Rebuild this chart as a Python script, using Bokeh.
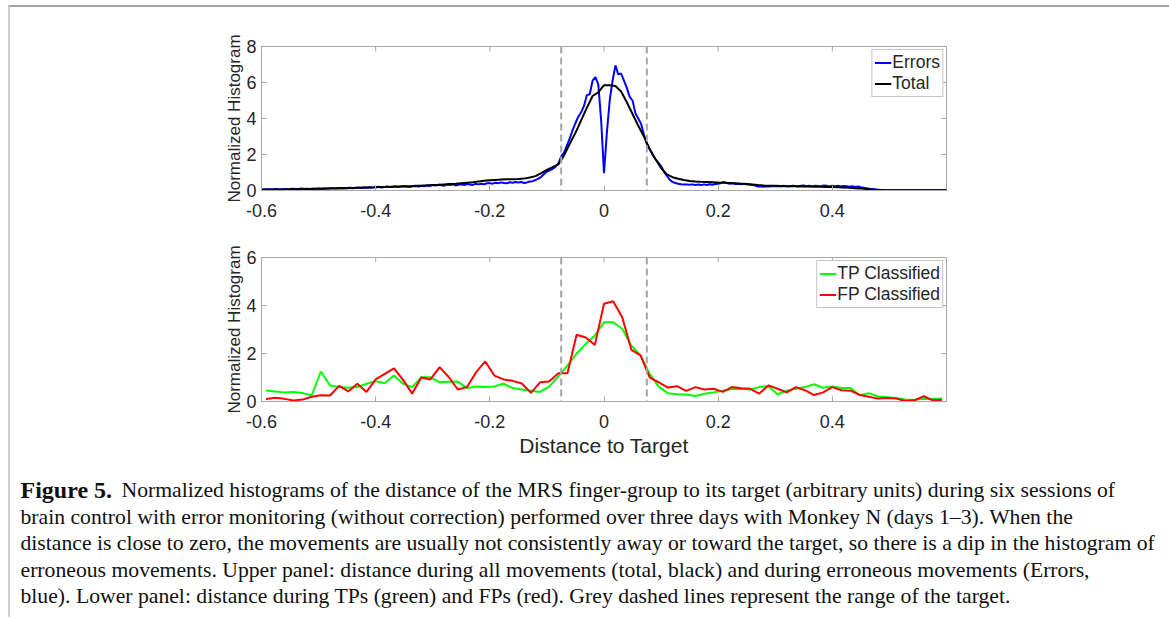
import numpy as np
from bokeh.plotting import figure
from bokeh.models import Range1d, FixedTicker, Span, Legend, LegendItem
from bokeh.layouts import column
from bokeh.embed import file_html
from bokeh.resources import INLINE
from bokeh.core.properties import value

# ---------------- data ----------------
# upper panel: Errors histogram (bin width 0.005)
errors_x = np.round(np.linspace(-0.6, 0.6, 241), 3)
errors_y = [
    0.06, 0.05, 0.07, 0.05, 0.06, 0.08, 0.06, 0.07, 0.09, 0.07, 0.08, 0.10, 0.08, 0.09, 0.11, 0.09, 0.10, 0.09, 0.11, 0.10,
    0.11, 0.10, 0.12, 0.11, 0.13, 0.12, 0.11, 0.13, 0.14, 0.12, 0.14, 0.15, 0.13, 0.15, 0.16, 0.14, 0.17, 0.15, 0.18, 0.16,
    0.19, 0.21, 0.17, 0.20, 0.22, 0.19, 0.21, 0.23, 0.20, 0.22, 0.24, 0.21, 0.20, 0.23, 0.25, 0.22, 0.26, 0.24, 0.27, 0.25,
    0.30, 0.27, 0.32, 0.29, 0.27, 0.33, 0.30, 0.35, 0.28, 0.32, 0.34, 0.30, 0.36, 0.33, 0.31, 0.37, 0.34, 0.38, 0.35, 0.40,
    0.41, 0.38, 0.43, 0.40, 0.45, 0.42, 0.40, 0.46, 0.43, 0.47, 0.44, 0.47, 0.42, 0.45, 0.50, 0.52, 0.58, 0.66, 0.76, 0.92,
    1.05, 1.12, 1.20, 1.32, 1.50, 1.90, 2.10, 2.50, 2.90, 3.35, 3.75, 4.10, 4.35, 4.70, 5.30, 5.35, 6.10, 6.30, 5.90, 3.90,
    0.96, 3.20, 5.00, 6.10, 6.95, 6.45, 6.50, 6.10, 5.70, 5.20, 5.00, 4.30, 4.00, 3.70, 3.10, 2.60, 2.30, 2.00, 1.75, 1.55,
    1.35, 1.05, 0.82, 0.60, 0.48, 0.42, 0.38, 0.35, 0.33, 0.34, 0.32, 0.34, 0.31, 0.33, 0.30, 0.34, 0.31, 0.35, 0.32, 0.36,
    0.38, 0.42, 0.47, 0.41, 0.38, 0.40, 0.36, 0.38, 0.35, 0.37, 0.34, 0.33, 0.30, 0.27, 0.22, 0.24, 0.21, 0.24, 0.22, 0.25,
    0.23, 0.25, 0.22, 0.26, 0.24, 0.23, 0.27, 0.25, 0.22, 0.26, 0.28, 0.24, 0.26, 0.23, 0.27, 0.25, 0.24, 0.28, 0.26, 0.23,
    0.27, 0.24, 0.26, 0.22, 0.25, 0.23, 0.21, 0.24, 0.20, 0.22, 0.18, 0.16, 0.13, 0.10, 0.08, 0.06, 0.04, 0.03, 0.02, 0.02,
    0.01, 0.01, 0.01, 0.01, 0.01, 0.01, 0.01, 0.01, 0.01, 0.01, 0.01, 0.01, 0.01, 0.01, 0.01, 0.01, 0.01, 0.01, 0.01, 0.01,
    0.01,
]

# upper panel: Total histogram (bin width 0.01)
total_x = np.round(np.linspace(-0.6, 0.6, 121), 3)
total_y = [
    0.04, 0.05, 0.05, 0.06, 0.06, 0.07, 0.07, 0.08, 0.08, 0.09,
    0.10, 0.10, 0.11, 0.12, 0.12, 0.13, 0.14, 0.15, 0.16, 0.17,
    0.18, 0.19, 0.20, 0.21, 0.22, 0.23, 0.24, 0.26, 0.27, 0.29,
    0.31, 0.32, 0.34, 0.36, 0.37, 0.40, 0.43, 0.46, 0.50, 0.54,
    0.57, 0.59, 0.61, 0.62, 0.63, 0.64, 0.66, 0.72, 0.80, 0.96,
    1.15, 1.30, 1.45, 1.95, 2.60, 3.20, 3.90, 4.60, 5.25, 5.45,
    5.85, 5.85, 5.80, 5.50, 4.90, 4.25, 3.60, 3.00, 2.30, 1.75,
    1.25, 0.90, 0.74, 0.65, 0.58, 0.53, 0.50, 0.48, 0.47, 0.46,
    0.44, 0.43, 0.42, 0.40, 0.38, 0.36, 0.33, 0.30, 0.28, 0.27,
    0.26, 0.25, 0.24, 0.24, 0.23, 0.22, 0.22, 0.21, 0.21, 0.20,
    0.19, 0.18, 0.17, 0.15, 0.13, 0.11, 0.09, 0.06, 0.04, 0.02,
    0.01, 0.01, 0.01, 0.01, 0.01, 0.01, 0.01, 0.01, 0.01, 0.01, 0.01,
]

# lower panel: classified histograms (bin width 0.016)
class_x = np.round(np.linspace(-0.592, 0.592, 75), 3)
tp_y = [
    0.46, 0.42, 0.38, 0.40, 0.35, 0.26, 1.25, 0.67, 0.60, 0.57,
    0.60, 0.74, 0.85, 0.76, 1.08, 0.74, 0.60, 1.01, 1.01, 0.80,
    0.82, 0.82, 0.56, 0.62, 0.60, 0.63, 0.74, 0.56, 0.50, 0.45,
    0.40, 0.62, 1.05, 1.50, 1.99, 2.40, 2.75, 3.30, 3.30, 3.03,
    2.33, 1.92, 1.15, 0.62, 0.34, 0.30, 0.29, 0.23, 0.32, 0.38,
    0.45, 0.52, 0.53, 0.50, 0.60, 0.64, 0.30, 0.45, 0.53, 0.60,
    0.72, 0.57, 0.63, 0.56, 0.56, 0.26, 0.35, 0.21, 0.18, 0.15,
    0.08, 0.07, 0.11, 0.10, 0.12,
]
fp_y = [
    0.10, 0.16, 0.11, 0.04, 0.08, 0.20, 0.26, 0.25, 0.65, 0.42,
    0.74, 0.40, 0.92, 1.15, 1.38, 0.90, 0.33, 1.00, 0.92, 1.43,
    1.02, 0.50, 0.60, 1.22, 1.67, 1.08, 0.92, 0.86, 0.75, 0.36,
    0.80, 0.83, 1.18, 1.18, 2.78, 2.67, 2.36, 4.07, 4.18, 3.51,
    2.15, 1.92, 1.01, 0.80, 0.58, 0.64, 0.44, 0.60, 0.50, 0.53,
    0.40, 0.60, 0.55, 0.53, 0.33, 0.67, 0.53, 0.38, 0.60, 0.47,
    0.27, 0.38, 0.60, 0.47, 0.45, 0.27, 0.20, 0.12, 0.15, 0.12,
    0.02, 0.05, 0.22, 0.05, 0.06,
]

target_edges = [-0.075, 0.075]
x_ticks = [-0.6, -0.4, -0.2, 0, 0.2, 0.4]
x_tick_labels = ["-0.6", "-0.4", "-0.2", "0", "0.2", "0.4"]
top_y_ticks = [0, 2, 4, 6, 8]
bottom_y_ticks = [0, 2, 4, 6]

caption_lines = [
    "Normalized histograms of the distance of the MRS finger-group to its target (arbitrary units) during six sessions of",
    "brain control with error monitoring (without correction) performed over three days with Monkey N (days 1\u20133). When the",
    "distance is close to zero, the movements are usually not consistently away or toward the target, so there is a dip in the histogram of",
    "erroneous movements. Upper panel: distance during all movements (total, black) and during erroneous movements (Errors,",
    "blue). Lower panel: distance during TPs (green) and FPs (red). Grey dashed lines represent the range of the target.",
]

# ---------------- styling ----------------
SANS = "Liberation Sans"
SERIF = "Liberation Serif"
AX_GREY = "#a8a8a8"
TXT = "#262626"
FIG_W = 1159


def panel(height, top, bottom, ymax, yticks):
    p = figure(width=FIG_W, height=height,
               x_range=Range1d(-0.6, 0.6), y_range=Range1d(0, ymax),
               output_backend="svg", toolbar_location=None,
               min_border_left=251, min_border_right=223,
               min_border_top=top, min_border_bottom=bottom)
    p.xgrid.visible = False
    p.ygrid.visible = False
    p.outline_line_color = AX_GREY
    p.outline_line_width = 1

    xa = p.below[0]
    ya = p.left[0]
    xa.ticker = FixedTicker(ticks=x_ticks)
    xa.major_label_overrides = dict(zip(x_ticks, x_tick_labels))
    ya.ticker = FixedTicker(ticks=yticks)
    for ax in (xa, ya):
        ax.axis_line_color = AX_GREY
        ax.major_tick_line_color = AX_GREY
        ax.major_tick_in = 5
        ax.major_tick_out = 0
        ax.minor_tick_line_color = None
        ax.major_label_text_font = SANS
        ax.major_label_text_font_size = "18px"
        ax.major_label_text_color = TXT
    xa.major_label_standoff = 13
    ya.major_label_standoff = 5

    ya.axis_label = "Normalized Histogram"
    ya.axis_label_text_font = SANS
    ya.axis_label_text_font_size = "17px"
    ya.axis_label_text_font_style = "normal"
    ya.axis_label_text_color = TXT
    ya.axis_label_standoff = -1

    # mirrored tick marks along the top and right edges of the box
    p.scatter(x_ticks, [yticks[-1]] * len(x_ticks), marker="dash", angle=np.pi / 2,
              size=10, line_color=AX_GREY, line_width=1)
    p.scatter([0.6] * len(yticks), yticks, marker="dash",
              size=10, line_color=AX_GREY, line_width=1)

    for loc in target_edges:
        p.add_layout(Span(location=loc, dimension="height", line_color="#a6a6a6",
                          line_dash="7 4", line_width=2))
    return p


def add_legend(p, items):
    leg = Legend(items=items, location="top_right", margin=3, padding=2,
                 spacing=0, glyph_width=17, glyph_height=21, label_height=21,
                 label_standoff=1, label_text_font=SANS, label_text_font_size="17.5px",
                 label_text_color=TXT, border_line_color="#8c8c8c", border_line_width=1,
                 background_fill_alpha=1.0)
    p.add_layout(leg)


# upper panel
p1 = panel(228, 39, 45, 8, top_y_ticks)
r_err = p1.line(errors_x, errors_y, line_color="#0000ff", line_width=2)
r_tot = p1.line(total_x, total_y, line_color="#000000", line_width=2)
add_legend(p1, [LegendItem(label="Errors", renderers=[r_err]),
                LegendItem(label="Total", renderers=[r_tot])])

# lower panel
p2 = panel(225, 22, 59, 6, bottom_y_ticks)
r_tp = p2.line(class_x, tp_y, line_color="#00ff00", line_width=2)
r_fp = p2.line(class_x, fp_y, line_color="#ff0000", line_width=2)
add_legend(p2, [LegendItem(label="TP Classified", renderers=[r_tp]),
                LegendItem(label="FP Classified", renderers=[r_fp])])
xl = p2.below[0]
xl.axis_label = "Distance to Target"
xl.axis_label_text_font = SANS
xl.axis_label_text_font_size = "21px"
xl.axis_label_text_font_style = "normal"
xl.axis_label_text_color = TXT
xl.axis_label_standoff = 3

# caption, positioned in page pixels
cap = figure(width=FIG_W, height=157, x_range=Range1d(10, 1169), y_range=Range1d(617, 460),
             output_backend="svg", toolbar_location=None, min_border=0,
             x_axis_type=None, y_axis_type=None)
cap.frame_align = False
cap.grid.visible = False
cap.outline_line_color = None
line_y = [489, 516, 542.5, 569, 595]
cap.text(x=[20], y=[line_y[0]], text=["Figure 5."], text_font=value(SERIF),
         text_font_style="bold", text_font_size="24px", text_color="#111111",
         text_baseline="middle", text_align="left")
cap.text(x=[121] + [20] * 4, y=line_y, text=caption_lines, text_font=value(SERIF),
         text_font_size="21.7px", text_color="#111111",
         text_baseline="middle", text_align="left")

layout = column(p1, p2, cap, margin=(5, 0, 0, 8),
                styles={"border-top": "2px solid #a3a3a3", "border-left": "2px solid #cfcfcf"})

open("out.html", "w").write(file_html(layout, INLINE))
